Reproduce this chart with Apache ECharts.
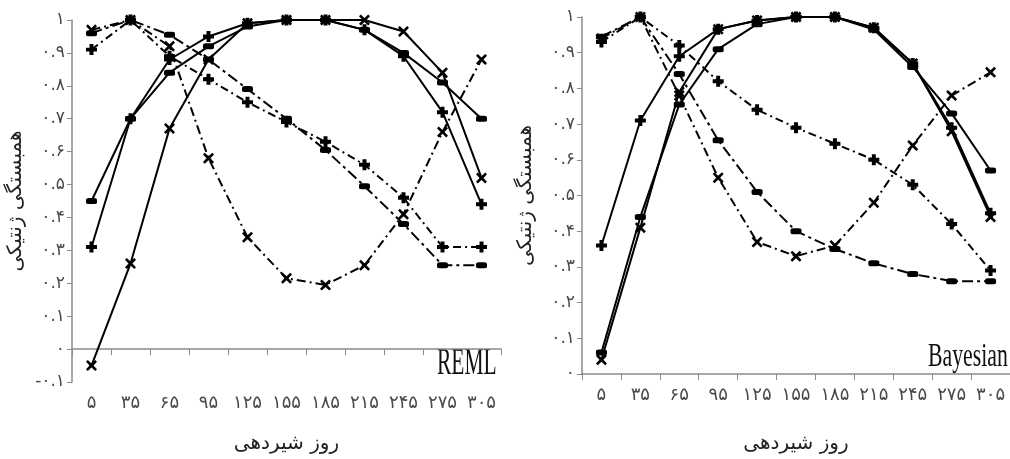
<!DOCTYPE html>
<html><head><meta charset="utf-8">
<script src="https://cdn.jsdelivr.net/npm/echarts@6/dist/echarts.min.js"></script>
<style>html,body{margin:0;padding:0;background:#fff}#c{width:1010px;height:459px}</style>
</head><body><div id="c"></div>
<script>
// categories (days in milk), Persian digits
const days = ['۵','۳۵','۶۵','۹۵','۱۲۵','۱۵۵','۱۸۵','۲۱۵','۲۴۵','۲۷۵','۳۰۵'];
// y tick labels
const yTicksReml = ['-۰.۱','۰','۰.۱','۰.۲','۰.۳','۰.۴','۰.۵','۰.۶','۰.۷','۰.۸','۰.۹','۱'];
const yTicksBay = ['۰','۰.۱','۰.۲','۰.۳','۰.۴','۰.۵','۰.۶','۰.۷','۰.۸','۰.۹','۱'];

// REML
const remlS1 = [0.45,0.70,0.84,0.92,0.98,1.00,1.00,0.97,0.90,0.81,0.70];
const remlS2 = [0.31,0.70,0.88,0.95,0.99,1.00,1.00,0.97,0.89,0.72,0.44];
const remlS3 = [-0.05,0.26,0.67,0.88,0.99,1.00,1.00,1.00,0.965,0.84,0.52];
const remlA  = [0.97,1.00,0.92,0.58,0.34,0.215,0.195,0.255,0.41,0.66,0.88];
const remlB  = [0.96,1.00,0.955,0.88,0.79,0.70,0.605,0.495,0.38,0.255,0.255];
const remlC  = [0.91,1.00,0.89,0.82,0.75,0.69,0.63,0.56,0.46,0.31,0.31];
// Bayesian
const bayS1 = [0.06,0.44,0.755,0.91,0.98,1.00,1.00,0.965,0.86,0.73,0.57];
const bayS2 = [0.36,0.71,0.89,0.966,0.99,1.00,1.00,0.97,0.87,0.69,0.45];
const bayS3 = [0.04,0.41,0.79,0.966,0.99,1.00,1.00,0.97,0.87,0.68,0.44];
const bayA  = [0.94,1.00,0.78,0.55,0.37,0.33,0.36,0.48,0.64,0.78,0.845];
const bayB  = [0.945,1.00,0.84,0.655,0.51,0.40,0.35,0.31,0.28,0.26,0.26];
const bayC  = [0.93,1.00,0.92,0.82,0.74,0.69,0.645,0.60,0.53,0.42,0.29];

const PLUS = 'path://M3.2,0H6.8V3.2H10V6.8H6.8V10H3.2V6.8H0V3.2H3.2Z';
const XMARK = 'path://M1.6,0L5,3.2L8.4,0L10,1.6L6.8,5L10,8.4L8.4,10L5,6.8L1.6,10L0,8.4L3.2,5L0,1.6Z';
const DASH = 'roundRect';

const FA = '"DejaVu Sans", sans-serif';
const axisGray = '#8a8a8a';
const labelGray = '#4a4a4a';

function mk(data, idx, sym, type){
  let size = sym === DASH ? [11,6] : 11;
  return {
    type:'line', data:data, xAxisIndex:idx, yAxisIndex:idx,
    symbol:sym, symbolSize:size, showSymbol:true,
    lineStyle:{color:'#000', width:2, type:type},
    itemStyle:{color:'#000', borderWidth:0},
    z: type==='solid'?3:2, animation:false
  };
}
const dd1 = [9,4,2,4], dd2 = [11,4,3,4], dd3 = [8,4,2,4];

function xAx(grid, gap){
  return {
    type:'category', gridIndex:grid, data:days, boundaryGap:true,
    axisLine:{lineStyle:{color:axisGray, width:1.5}},
    axisTick:{show:true, length:6, lineStyle:{color:axisGray}},
    axisLabel:{color:labelGray, fontFamily:FA, fontSize:18, margin:12, interval:0, hideOverlap:false},
    name:'روز شیردهی', nameLocation:'middle', nameGap:gap,
    nameTextStyle:{color:'#222', fontFamily:FA, fontSize:20}
  };
}
function yAx(grid, min, ticks, gap){
  return {
    type:'value', gridIndex:grid, min:min, max:1, interval:0.1,
    axisLine:{show:true, lineStyle:{color:axisGray, width:1.5}},
    axisTick:{show:true, length:5, lineStyle:{color:axisGray}},
    splitLine:{show:false},
    axisLabel:{color:labelGray, fontFamily:FA, fontSize:17, margin:7,
      formatter:function(v){ return ticks[Math.round((v - min)*10)]; }},
    name:'همبستگی ژنتیکی', nameLocation:'middle', nameGap:gap,
    nameTextStyle:{color:'#222', fontFamily:FA, fontSize:20}
  };
}

const chart = echarts.init(document.getElementById('c'), null, {renderer:'canvas'});
chart.setOption({
  backgroundColor:'#fff',
  animation:false,
  grid:[
    {left:72, top:20, width:429, height:367},
    {left:582, top:17, width:428, height:361}
  ],
  xAxis:[xAx(0, 52), xAx(1, 60)],
  yAxis:[yAx(0, -0.1, yTicksReml, 46), yAx(1, 0, yTicksBay, 46)],
  graphic:[
    {type:'text', x:437, y:346, scaleX:0.58, style:{text:'REML', font:'37px "Liberation Serif"', fill:'#111', textVerticalAlign:'top'}},
    {type:'text', x:928, y:341, scaleX:0.66, style:{text:'Bayesian', font:'33px "Liberation Serif"', fill:'#111', textVerticalAlign:'top'}}
  ],
  series:[
    mk(remlA,0,XMARK,dd1), mk(remlB,0,DASH,dd2), mk(remlC,0,PLUS,dd3),
    mk(remlS1,0,DASH,'solid'), mk(remlS2,0,PLUS,'solid'), mk(remlS3,0,XMARK,'solid'),
    mk(bayA,1,XMARK,dd1), mk(bayB,1,DASH,dd2), mk(bayC,1,PLUS,dd3),
    mk(bayS1,1,DASH,'solid'), mk(bayS2,1,PLUS,'solid'), mk(bayS3,1,XMARK,'solid')
  ]
});
</script></body></html>
